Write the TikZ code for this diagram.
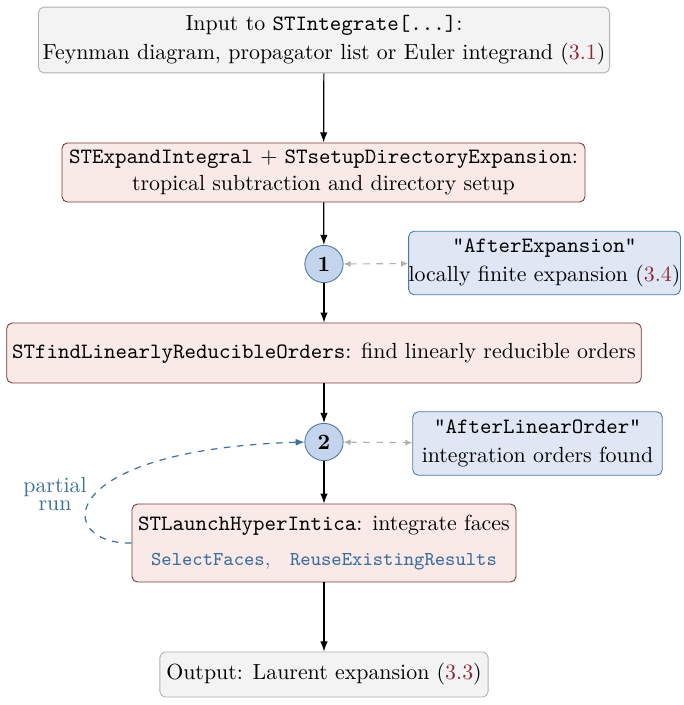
\documentclass[tikz,border=0pt]{standalone}
\usetikzlibrary{arrows.meta,shapes.geometric}
\definecolor{gfill}{HTML}{F3F3F3}
\definecolor{gdraw}{HTML}{B0B0B0}
\definecolor{pfill}{HTML}{F9EAE7}
\definecolor{pdraw}{HTML}{7A3A3A}
\definecolor{bfill}{HTML}{E0E7F4}
\definecolor{bdraw}{HTML}{4A78A8}
\definecolor{cfill}{HTML}{C3D4EC}
\definecolor{refred}{HTML}{8B2A3A}
\definecolor{optblue}{HTML}{3D6E9E}
\begin{document}
\begin{tikzpicture}[x=0.457pt,y=-0.457pt,
 box/.style={rounded corners=2.5pt,align=center,inner sep=0pt,line width=0.4pt},
 gbox/.style={box,fill=gfill,draw=gdraw},
 pbox/.style={box,fill=pfill,draw=pdraw},
 bbox/.style={box,fill=bfill,draw=bdraw},
 circ/.style={ellipse,fill=cfill,draw=bdraw,minimum width=17.5pt,minimum height=17pt,inner sep=0pt,font=\bfseries},
 arr/.style={-{Latex[length=4.6pt,width=3.4pt]},line width=0.55pt},
 darr/.style={{Latex[length=3.2pt,width=2.8pt]}-{Latex[length=3.2pt,width=2.8pt]},gdraw,dashed,line width=0.5pt},
 ref/.style={text=refred}]
\useasboundingbox (0,0) rectangle (683,705);
\node[gbox,minimum width=261pt,minimum height=30pt] (in) at (324,40) {Input to \texttt{STIntegrate[...]}:\\[1pt] Feynman diagram, propagator list or Euler integrand (\textcolor{refred}{3.1})};
\node[pbox,minimum width=239pt,minimum height=27pt] (ex) at (323.5,172.5) {\texttt{STExpandIntegral} + \texttt{STsetupDirectoryExpansion}:\\ tropical subtraction and directory setup};
\node[circ] (c1) at (324,264) {1};
\node[bbox,minimum width=120pt,minimum height=29pt] (ae) at (544.5,263) {\texttt{"AfterExpansion"}\\[1pt] locally finite expansion (\textcolor{refred}{3.4})};
\node[pbox,minimum width=290pt,minimum height=27.4pt] (lr) at (324,353) {\texttt{STfindLinearlyReducibleOrders}: find linearly reducible orders};
\node[circ] (c2) at (324,442) {2};
\node[bbox,minimum width=114pt,minimum height=29pt] (al) at (537.5,443.5) {\texttt{"AfterLinearOrder"}\\[1pt] integration orders found};
\node[pbox,minimum width=175.5pt,minimum height=35.6pt] (hi) at (324,543) {\texttt{STLaunchHyperIntica}: integrate faces\\[4pt] \textcolor{optblue}{\small\texttt{SelectFaces},\quad \texttt{ReuseExistingResults}}};
\node[gbox,minimum width=150pt,minimum height=20.6pt] (out) at (324,674.5) {Output: Laurent expansion (\textcolor{refred}{3.3})};
\node[text=optblue,align=center,inner sep=0pt] (pr) at (55,494) {partial\\[-4pt]run};
\draw[arr] (in) -- (ex);
\draw[arr] (ex) -- (c1);
\draw[arr] (c1) -- (lr);
\draw[arr] (lr) -- (c2);
\draw[arr] (c2) -- (hi);
\draw[arr] (hi) -- (out);
\draw[darr] (c1) -- (ae);
\draw[darr] (c2) -- (al);
\draw[optblue,dashed,line width=0.55pt,-{Latex[length=4pt,width=3.2pt]}] (hi.west) .. controls (55,545) and (50,450) .. (c2.west);
\end{tikzpicture}
\end{document}
